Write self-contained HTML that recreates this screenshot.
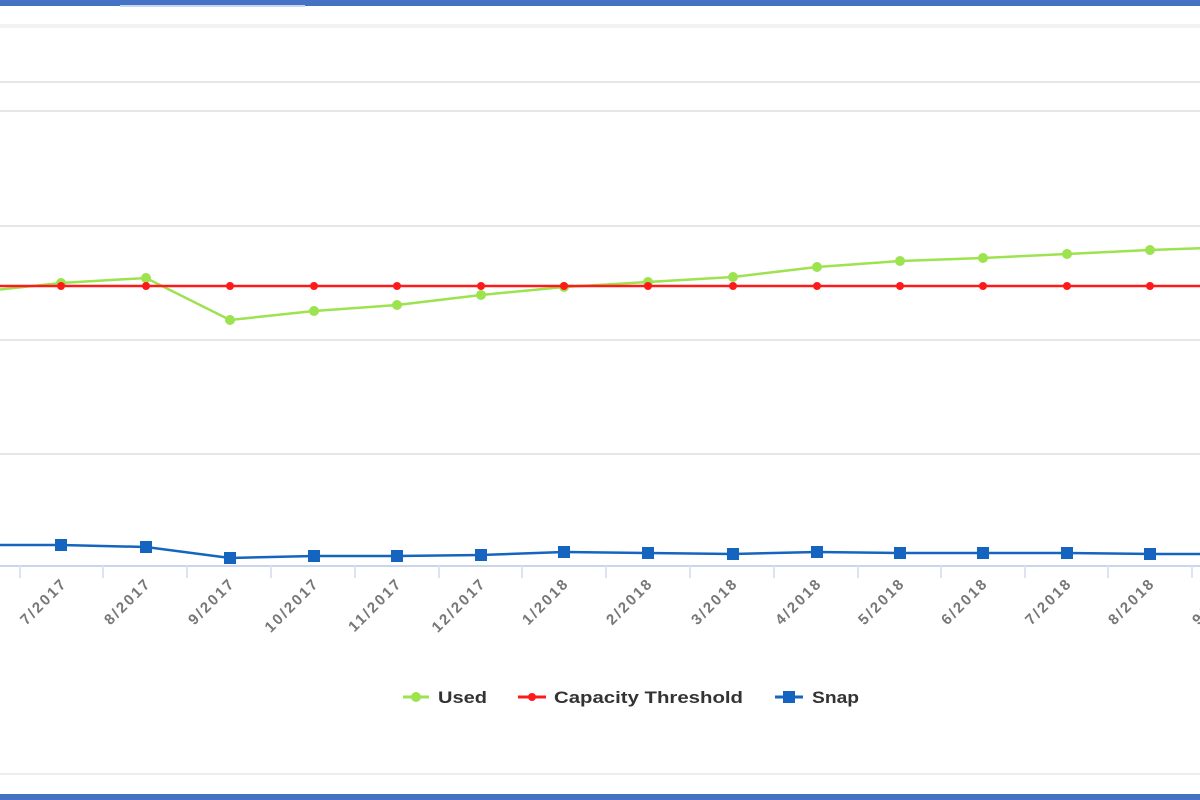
<!DOCTYPE html>
<html><head><meta charset="utf-8"><style>
html,body{margin:0;padding:0;width:1200px;height:800px;overflow:hidden;background:#fff}
text{font-family:"Liberation Sans",sans-serif}
</style></head><body>
<svg width="1200" height="800" xmlns="http://www.w3.org/2000/svg">
<rect x="0" y="0" width="1200" height="6" fill="#4472c4"/>
<rect x="120" y="5" width="185" height="2" fill="#c9d6f0"/>
<rect x="0" y="794" width="1200" height="6" fill="#4472c4"/>
<rect x="0" y="24" width="1200" height="4" fill="#f2f2f2"/>
<rect x="0" y="773" width="1200" height="2" fill="#ececec"/>
<g stroke="#e6e6e6" stroke-width="2">
<line x1="0" y1="82" x2="1200" y2="82"/>
<line x1="0" y1="111" x2="1200" y2="111"/>
<line x1="0" y1="226" x2="1200" y2="226"/>
<line x1="0" y1="340" x2="1200" y2="340"/>
<line x1="0" y1="454" x2="1200" y2="454"/>
</g>
<line x1="0" y1="566" x2="1200" y2="566" stroke="#ccd6eb" stroke-width="2"/>
<g stroke="#dde3ef" stroke-width="2">
<line x1="20" y1="566" x2="20" y2="578"/><line x1="103" y1="566" x2="103" y2="578"/><line x1="187" y1="566" x2="187" y2="578"/><line x1="271" y1="566" x2="271" y2="578"/><line x1="355" y1="566" x2="355" y2="578"/><line x1="439" y1="566" x2="439" y2="578"/><line x1="522" y1="566" x2="522" y2="578"/><line x1="606" y1="566" x2="606" y2="578"/><line x1="690" y1="566" x2="690" y2="578"/><line x1="774" y1="566" x2="774" y2="578"/><line x1="858" y1="566" x2="858" y2="578"/><line x1="941" y1="566" x2="941" y2="578"/><line x1="1025" y1="566" x2="1025" y2="578"/><line x1="1108" y1="566" x2="1108" y2="578"/><line x1="1192" y1="566" x2="1192" y2="578"/>
</g>
<g font-size="15" font-weight="bold" fill="#777" text-anchor="end" letter-spacing="2.2">
<text transform="translate(68,584) rotate(-45)">7/2017</text>
<text transform="translate(152,584) rotate(-45)">8/2017</text>
<text transform="translate(236,584) rotate(-45)">9/2017</text>
<text transform="translate(320,584) rotate(-45)">10/2017</text>
<text transform="translate(403,584) rotate(-45)">11/2017</text>
<text transform="translate(487,584) rotate(-45)">12/2017</text>
<text transform="translate(570,584) rotate(-45)">1/2018</text>
<text transform="translate(654,584) rotate(-45)">2/2018</text>
<text transform="translate(739,584) rotate(-45)">3/2018</text>
<text transform="translate(823,584) rotate(-45)">4/2018</text>
<text transform="translate(906,584) rotate(-45)">5/2018</text>
<text transform="translate(989,584) rotate(-45)">6/2018</text>
<text transform="translate(1073,584) rotate(-45)">7/2018</text>
<text transform="translate(1156,584) rotate(-45)">8/2018</text>
<text transform="translate(1240,584) rotate(-45)">9/2018</text>
</g>
<polyline fill="none" stroke="#9de24f" stroke-width="2.5" points="-23,292 61,283 146,278 230,320 314,311 397,305 481,295 564,287 648,282 733,277 817,267 900,261 983,258 1067,254 1150,250 1234,247"/>
<g fill="#9de24f">
<circle cx="61" cy="283" r="5"/><circle cx="146" cy="278" r="5"/><circle cx="230" cy="320" r="5"/><circle cx="314" cy="311" r="5"/><circle cx="397" cy="305" r="5"/><circle cx="481" cy="295" r="5"/><circle cx="564" cy="287" r="5"/><circle cx="648" cy="282" r="5"/><circle cx="733" cy="277" r="5"/><circle cx="817" cy="267" r="5"/><circle cx="900" cy="261" r="5"/><circle cx="983" cy="258" r="5"/><circle cx="1067" cy="254" r="5"/><circle cx="1150" cy="250" r="5"/>
</g>
<line x1="0" y1="286" x2="1200" y2="286" stroke="#ff1a1a" stroke-width="2.5"/>
<g fill="#ff1a1a">
<circle cx="61" cy="286" r="4"/><circle cx="146" cy="286" r="4"/><circle cx="230" cy="286" r="4"/><circle cx="314" cy="286" r="4"/><circle cx="397" cy="286" r="4"/><circle cx="481" cy="286" r="4"/><circle cx="564" cy="286" r="4"/><circle cx="648" cy="286" r="4"/><circle cx="733" cy="286" r="4"/><circle cx="817" cy="286" r="4"/><circle cx="900" cy="286" r="4"/><circle cx="983" cy="286" r="4"/><circle cx="1067" cy="286" r="4"/><circle cx="1150" cy="286" r="4"/>
</g>
<polyline fill="none" stroke="#1565c0" stroke-width="2.5" points="-23,545 61,545 146,547 230,558 314,556 397,556 481,555 564,552 648,553 733,554 817,552 900,553 983,553 1067,553 1150,554 1234,554"/>
<g fill="#1565c0">
<rect x="55" y="539" width="12" height="12"/><rect x="140" y="541" width="12" height="12"/><rect x="224" y="552" width="12" height="12"/><rect x="308" y="550" width="12" height="12"/><rect x="391" y="550" width="12" height="12"/><rect x="475" y="549" width="12" height="12"/><rect x="558" y="546" width="12" height="12"/><rect x="642" y="547" width="12" height="12"/><rect x="727" y="548" width="12" height="12"/><rect x="811" y="546" width="12" height="12"/><rect x="894" y="547" width="12" height="12"/><rect x="977" y="547" width="12" height="12"/><rect x="1061" y="547" width="12" height="12"/><rect x="1144" y="548" width="12" height="12"/>
</g>
<g font-size="17" font-weight="bold" fill="#333">
<line x1="403" y1="697" x2="429" y2="697" stroke="#9de24f" stroke-width="3"/><circle cx="416" cy="697" r="5" fill="#9de24f"/>
<text x="438" y="703" textLength="49" lengthAdjust="spacingAndGlyphs">Used</text>
<line x1="518" y1="697" x2="546" y2="697" stroke="#ff1a1a" stroke-width="3"/><circle cx="532" cy="697" r="4" fill="#ff1a1a"/>
<text x="554" y="703" textLength="189" lengthAdjust="spacingAndGlyphs">Capacity Threshold</text>
<line x1="775" y1="697" x2="803" y2="697" stroke="#1565c0" stroke-width="3"/><rect x="783" y="691" width="12" height="12" fill="#1565c0"/>
<text x="812" y="703" textLength="47" lengthAdjust="spacingAndGlyphs">Snap</text>
</g>
</svg>
</body></html>
